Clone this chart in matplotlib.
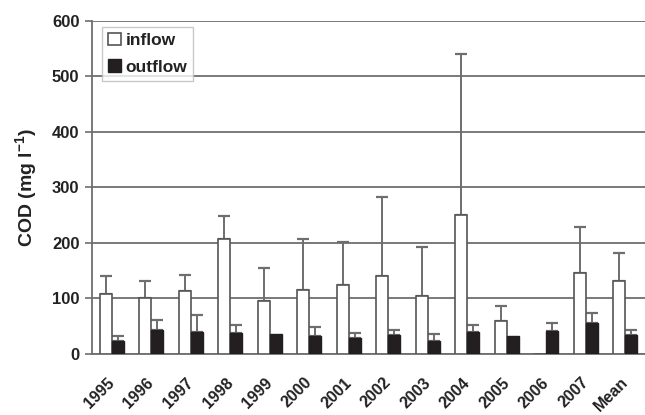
import numpy as np
import matplotlib
matplotlib.use("Agg")
import matplotlib.pyplot as plt
import matplotlib.transforms as mtransforms

plt.rcParams['font.family'] = ['Liberation Sans', 'DejaVu Sans']
plt.rcParams['mathtext.fontset'] = 'custom'
plt.rcParams['mathtext.bf'] = 'Liberation Sans:bold'
plt.rcParams['mathtext.rm'] = 'Liberation Sans:bold'

categories = ["1995", "1996", "1997", "1998", "1999", "2000", "2001",
              "2002", "2003", "2004", "2005", "2006", "2007", "Mean"]
inflow = [108, 100, 113, 207, 95, 115, 124, 140, 104, 251, 59, np.nan, 145, 132]
inflow_upper = [140, 132, 143, 249, 155, 207, 202, 283, 193, 540, 86, np.nan, 229, 182]
outflow = [23, 43, 39, 37, 36, 32, 28, 34, 23, 39, 32, 41, 55, 34]
outflow_upper = [32, 62, 70, 52, np.nan, 48, 38, 44, 36, 52, np.nan, 55, 73, 44]

fig = plt.figure(figsize=(6.45, 4.15), dpi=100)
ax = fig.add_axes([92/645, 61/415, 553/645, 333.3/415])

x = np.arange(len(categories))
w = 0.3
gray = '#6e6e6e'
txt = '#222222'

ax.set_axisbelow(True)
ax.yaxis.grid(True, color=gray, linewidth=1.3)

inf = np.array(inflow, dtype=float)
out = np.array(outflow, dtype=float)
infu = np.array(inflow_upper, dtype=float)
outu = np.array(outflow_upper, dtype=float)

ax.bar(x - w/2, np.nan_to_num(inf), width=w, color='white', edgecolor='#555555',
       linewidth=1.2, label='inflow', zorder=3)
ax.bar(x + w/2, out, width=w, color='#231f20', edgecolor='#231f20',
       linewidth=1.0, label='outflow', zorder=3)

m = np.isfinite(infu)
ax.errorbar(x[m] - w/2, inf[m], yerr=[np.zeros(m.sum()), infu[m] - inf[m]],
            fmt='none', ecolor=gray, elinewidth=1.4, capsize=4, capthick=1.6, zorder=2)
m = np.isfinite(outu)
ax.errorbar(x[m] + w/2, out[m], yerr=[np.zeros(m.sum()), outu[m] - out[m]],
            fmt='none', ecolor=gray, elinewidth=1.4, capsize=4, capthick=1.6, zorder=2)

ax.set_xlim(-0.5, len(categories) - 0.5)
ax.set_ylim(0, 600)
ax.set_yticks(np.arange(0, 601, 100))
ax.set_xticks(x)
ax.set_xticklabels(categories, rotation=45, ha='right', va='top',
                   rotation_mode='anchor', fontsize=11.5, fontweight='bold', color=txt)
ax.tick_params(axis='x', length=0, pad=15)
offset = mtransforms.ScaledTranslation(-5/100, 0, fig.dpi_scale_trans)
for lab in ax.get_xticklabels():
    lab.set_transform(lab.get_transform() + offset)
ax.tick_params(axis='y', length=5, width=1.2, color=gray, labelsize=12, pad=4)
for lab in ax.get_yticklabels():
    lab.set_fontweight('bold')
    lab.set_color(txt)

for s in ['top', 'right']:
    ax.spines[s].set_visible(False)
for s in ['left', 'bottom']:
    ax.spines[s].set_color(gray)
    ax.spines[s].set_linewidth(1.3)

ax.set_ylabel('COD (mg l$^{\\mathbf{-1}}$)', fontsize=14, fontweight='bold', color=txt, labelpad=9)

leg = ax.legend(loc='upper left', bbox_to_anchor=(10/553, 1 - 6/333.3), frameon=True, fancybox=False,
                edgecolor='#bbbbbb', prop={'weight': 'bold', 'size': 12.5},
                handlelength=0.75, handleheight=0.75, handletextpad=0.25,
                borderpad=0.35, labelspacing=0.65, borderaxespad=0)
leg.get_frame().set_linewidth(1.0)
for t in leg.get_texts():
    t.set_color(txt)

fig.savefig('out.png', dpi=100)
